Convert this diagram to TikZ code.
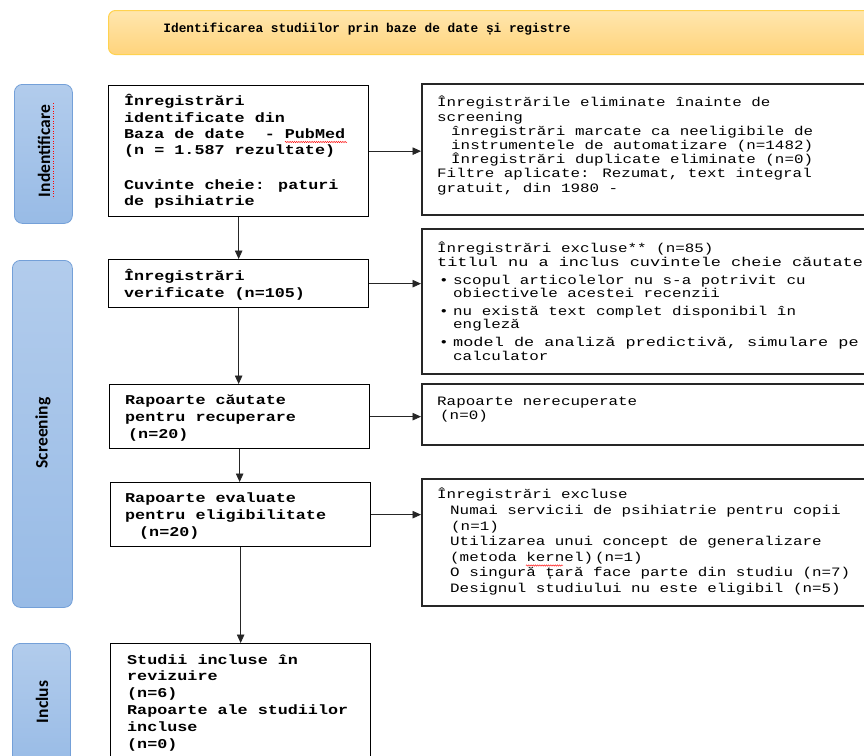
\documentclass[tikz,border=0pt]{standalone}
\usepackage{fontspec}
\newfontfamily\courS[FakeStretch=1.24]{Liberation Mono}
\newfontfamily\courW[FakeStretch=1.32]{Liberation Mono}
\newfontfamily\courT{Liberation Mono}
\newfontfamily\calib{Carlito}
\usetikzlibrary{arrows.meta,decorations.pathmorphing}
\definecolor{sidetop}{HTML}{B2CCEC}
\definecolor{sidebot}{HTML}{98BBE6}
\definecolor{sideline}{HTML}{74A0D8}
\definecolor{titletop}{HTML}{FFE6AE}
\definecolor{titlebot}{HTML}{FFD47C}
\definecolor{titleline}{HTML}{FFD24F}
\tikzset{
  lbox/.style={draw=black, line width=1.3pt, minimum width=260pt, anchor=north west, inner sep=0pt, fill=white},
  rbox/.style={draw=black!85, line width=1.6pt, minimum width=470pt, anchor=north west, inner sep=0pt, fill=white},
  sidebar/.style={draw=sideline, line width=0.8pt, rounded corners=8pt, top color=sidetop, bottom color=sidebot, anchor=north west, inner sep=0pt},
  sidetext/.style={rotate=90, font=\calib\bfseries\fontsize{17.5}{19}\selectfont, inner sep=0pt},
  titlebox/.style={draw=titleline, line width=1pt, rounded corners=7pt, top color=titletop, bottom color=titlebot, anchor=north west, inner sep=0pt},
  ltext/.style={anchor=base west, inner sep=0pt, align=left, font=\courS\bfseries\fontsize{13.5}{16.8}\selectfont},
  rtext/.style={anchor=base west, inner sep=0pt, align=left, font=\courS\fontsize{12.8}{14.2}\selectfont},
  arr/.style={draw=black!85, line width=0.8pt, -{Triangle[length=8.5pt,width=7.5pt]}},
  squig/.style={draw=red, line width=0.4pt, decorate, decoration={snake, amplitude=0.7pt, segment length=2.2pt}}
}
\begin{document}
\begin{tikzpicture}[x=1pt,y=-1pt]
\useasboundingbox (0,0) rectangle (864,755);
\fill[white] (0,0) rectangle (864,755);

% title
\node[titlebox, minimum width=780pt, minimum height=44pt] (title) at (108,10) {};
\node[anchor=base, inner sep=0pt, font=\courT\bfseries\fontsize{12.8}{14}\selectfont] (titlet) at (367,32.5) {Identificarea studiilor prin baze de date și registre};

% sidebars
\node[sidebar, minimum width=58pt, minimum height=139pt] (s1) at (14,84) {};
\node[sidetext] (s1t) at (44,151) {Indentificare};
\node[sidebar, minimum width=60pt, minimum height=347pt] (s2) at (12,260) {};
\node[sidetext] (s2t) at (43,433) {Screening};
\node[sidebar, minimum width=58pt, minimum height=125pt] (s3) at (12,643) {};
\node[sidetext] (s3t) at (42,702) {Inclus};
\draw[red, line width=0.5pt, dotted] (53.5,103) -- (53.5,198);

% left boxes
\node[lbox, minimum height=131pt] (b1) at (108,85) {};
\node[ltext, font=\courS\bfseries\fontsize{13.5}{16.2}\selectfont] (b1t) at (124,205.5) {Înregistrări\\identificate din\\Baza de date\ \ - PubMed\\(n = 1.587 rezultate)\\[2.5pt]\\Cuvinte cheie: paturi\\de psihiatrie};
\draw[squig] (285,142) -- (347,142);

\node[lbox, minimum height=48pt] (b2) at (108,259) {};
\node[ltext] (b2t) at (124,297) {Înregistrări\\verificate (n=105)};

\node[lbox, minimum height=64pt] (b3) at (109,384) {};
\node[ltext] (b3t) at (125,438) {Rapoarte căutate\\pentru recuperare\\\hspace*{3pt}(n=20)};

\node[lbox, minimum height=64pt] (b4) at (110,482) {};
\node[ltext] (b4t) at (125,536) {Rapoarte evaluate\\pentru eligibilitate\\\hspace*{14pt}(n=20)};

\node[lbox, minimum height=130pt] (b5) at (110,643) {};
\node[ltext] (b5t) at (127,748) {Studii incluse în\\revizuire\\(n=6)\\Rapoarte ale studiilor\\incluse\\(n=0)};

% right boxes
\node[rbox, minimum height=131pt] (r1) at (421,83) {};
\node[rtext] (r1t) at (437,192) {Înregistrările eliminate înainte de\\screening\\\hspace*{14pt}înregistrări marcate ca neeligibile de\\\hspace*{14pt}instrumentele de automatizare (n=1482)\\\hspace*{14pt}Înregistrări duplicate eliminate (n=0)\\Filtre aplicate: Rezumat, text integral\\gratuit, din 1980 -};

\node[rbox, minimum height=145pt] (r2) at (421,228) {};
\node[rtext, font=\courS\fontsize{12.8}{13.8}\selectfont] (r2t) at (437,360) {Înregistrări excluse** (n=85)\\{\courW titlul nu a inclus cuvintele cheie căutate}\\[3.5pt]\makebox[16pt][l]{\hspace*{2pt}\textbullet}scopul articolelor nu s-a potrivit cu\\\hspace*{16pt}obiectivele acestei recenzii\\[3.5pt]\makebox[16pt][l]{\hspace*{2pt}\textbullet}nu există text complet disponibil în\\\hspace*{16pt}engleză\\[3.5pt]\makebox[16pt][l]{\hspace*{2pt}\textbullet}{\courW model de analiză predictivă, simulare pe}\\\hspace*{16pt}calculator};

\node[rbox, minimum height=61pt] (r3) at (421,383) {};
\node[rtext, font=\courS\fontsize{12.8}{13.4}\selectfont] (r3t) at (437,419) {Rapoarte nerecuperate\\\hspace*{3pt}(n=0)};

\node[rbox, minimum height=127pt] (r4) at (421,478) {};
\node[rtext, font=\courS\fontsize{12.8}{15.6}\selectfont] (r4t) at (437,592.5) {Înregistrări excluse\\\hspace*{13pt}Numai servicii de psihiatrie pentru copii\\\hspace*{14pt}(n=1)\\\hspace*{13pt}Utilizarea unui concept de generalizare\\\hspace*{13pt}(metoda kernel)\hspace*{2pt}(n=1)\\\hspace*{13pt}O singură țară face parte din studiu (n=7)\\\hspace*{13pt}Designul studiului nu este eligibil (n=5)};
\draw[squig] (526,565.5) -- (563,565.5);

% connectors
\draw[arr] (b1.east) -- (b1.east -| r1.west);
\draw[arr] (b2.east) -- (b2.east -| r2.west);
\draw[arr] (b3.east) -- (b3.east -| r3.west);
\draw[arr] (b4.east) -- (b4.east -| r4.west);
\draw[arr] (b1.south) -- (b2.north);
\draw[arr] (b2.south) -- (b2.south |- b3.north);
\draw[arr] (b3.south) -- (b3.south |- b4.north);
\draw[arr] (b4.south) -- (b4.south |- b5.north);
\end{tikzpicture}
\end{document}
